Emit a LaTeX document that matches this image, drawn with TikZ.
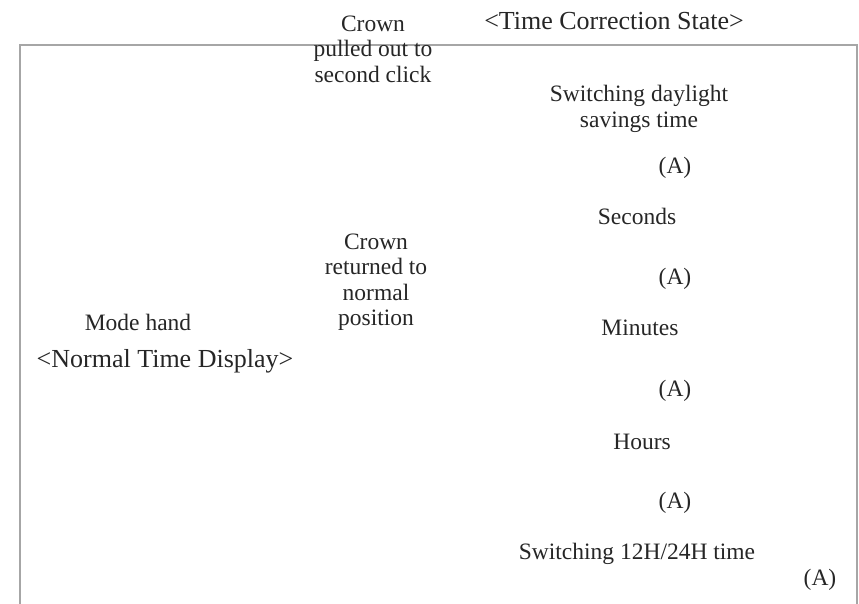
\documentclass[tikz,border=0pt]{standalone}
\usepackage{fontspec}
\setmainfont{Liberation Serif}
\usepackage{tikz}
\usetikzlibrary{positioning}

\begin{document}
\begin{tikzpicture}[x=1pt,y=-1pt,
    every node/.style={inner sep=0pt,align=center,text=black!85},
    lbl/.style={font=\fontsize{23.5}{25.5}\selectfont},
    title/.style={font=\fontsize{26}{28}\selectfont},
    frame/.style={draw=black!35,line width=1.6pt}]
    \useasboundingbox (0,0) rectangle (859,604);
    %%%%% THE FRAME
    \draw[frame] (20,620) -- (20,45) -- (857,45) -- (857,620);
    %%%%% NORMAL TIME DISPLAY
    \node[lbl]   (modehand) at (138,322) {Mode hand};
    \node[title] (normal)   at (165,361) {<Normal Time Display>};
    %%%%% CROWN
    \node[lbl] (pulled)   at (373,49)  {Crown\\pulled out to\\second click};
    \node[lbl] (returned) at (376,282) {Crown\\returned to\\normal\\position};
    %%%%% TIME CORRECTION STATE
    \node[title] (corr)   at (614,21)  {<Time Correction State>};
    \node[lbl] (dst)      at (639,109) {Switching daylight\\savings time};
    \node[lbl] (a1)       at (675,168) {(A)};
    \node[lbl] (seconds)  at (637,216) {Seconds};
    \node[lbl] (a2)       at (675,279) {(A)};
    \node[lbl] (minutes)  at (640,328) {Minutes};
    \node[lbl] (a3)       at (675,391) {(A)};
    \node[lbl] (hours)    at (642,442) {Hours};
    \node[lbl] (a4)       at (675,503) {(A)};
    \node[lbl] (twelve)   at (637,554) {Switching 12H/24H time};
    \node[lbl] (a5)       at (820,580) {(A)};
\end{tikzpicture}
\end{document}
